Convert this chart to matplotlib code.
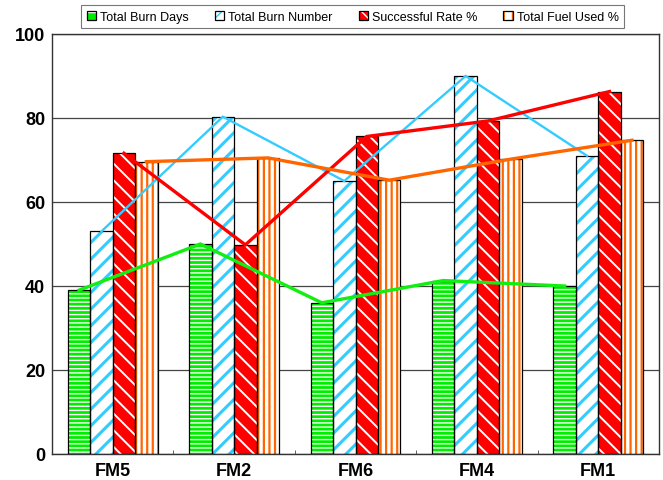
import matplotlib
matplotlib.use("Agg")
import matplotlib.pyplot as plt
import numpy as np
from matplotlib.patches import Patch
from matplotlib.legend_handler import HandlerTuple

# values
categories = ["FM5", "FM2", "FM6", "FM4", "FM1"]
burn_days = [39, 50, 36, 41.3, 40]
burn_number = [53, 80.3, 65, 90, 71]
success_rate = [71.6, 49.8, 75.6, 79.3, 86.3]
fuel_used = [69.6, 70.5, 65.2, 70.2, 74.7]

labels = ["Total Burn Days", "Total Burn Number", "Successful Rate %", "Total Fuel Used %"]

plt.rcParams["font.family"] = ["Liberation Sans", "DejaVu Sans"]

green = "#00ee00"
cyan = "#33ccff"
red = "#ff0000"
orange = "#ff6600"

# (face, hatch colour, hatch, line colour, line width, hatch lw)
styles = [
    (green, "white", "----", "#11ee11", 2.4, 1.0),
    ("white", cyan, "//", cyan, 1.7, 2.2),
    (red, "white", "\\\\", red, 2.4, 1.4),
    ("white", orange, "|||", orange, 2.4, 1.6),
]
series = [burn_days, burn_number, success_rate, fuel_used]

fig = plt.figure(figsize=(6.63, 4.81), dpi=100)
ax = fig.add_axes([52 / 663, 26 / 481, 607 / 663, 420 / 481])

x = np.arange(len(categories))
width = 0.185
start = -2 * width

handles = []
for i, (vals, (face, hcol, hatch, lcol, lw, hlw)) in enumerate(zip(series, styles)):
    pos = x + start + width * (i + 0.5)
    with plt.rc_context({"hatch.linewidth": hlw}):
        ax.bar(pos, vals, width, color=face, edgecolor=hcol, hatch=hatch,
               linewidth=0, zorder=2)
    ax.bar(pos, vals, width, facecolor="none", edgecolor="black",
           linewidth=0.9, zorder=3)
    ax.plot(pos, vals, color=lcol, linewidth=lw, zorder=4, solid_joinstyle="miter")
    with plt.rc_context({"hatch.linewidth": 1.3}):
        h_fill = Patch(facecolor=face, edgecolor=hcol, hatch=hatch[:2], linewidth=0)
    h_edge = Patch(facecolor="none", edgecolor="black", linewidth=0.9)
    handles.append((h_fill, h_edge))

ax.set_xlim(-0.5, 4.5)
ax.set_ylim(0, 100)
ax.set_yticks([0, 20, 40, 60, 80, 100])
ax.yaxis.grid(True, color="#444444", linewidth=0.9)
ax.set_axisbelow(True)

ax.set_xticks(x)
ax.set_xticklabels(categories, fontsize=13, fontweight="bold")
ax.set_xticks(x[:-1] + 0.5, minor=True)
ax.tick_params(axis="x", which="major", length=0, pad=6)
ax.tick_params(axis="x", which="minor", length=3, direction="in", color="#444444")
ax.tick_params(axis="y", length=0, pad=5, labelsize=13)
for t in ax.get_yticklabels():
    t.set_fontweight("bold")

for s in ax.spines.values():
    s.set_color("#333333")
    s.set_linewidth(1.0)

leg = fig.legend(handles, labels, handler_map={tuple: HandlerTuple(ndivide=1, pad=0)},
                 loc="center", bbox_to_anchor=(0.532, 0.9636), ncol=4, fontsize=9,
                 frameon=True, fancybox=False, handlelength=0.75, handleheight=0.75,
                 handletextpad=0.3, columnspacing=2.1, borderpad=0.45)
leg.get_frame().set_edgecolor("#555555")
leg.get_frame().set_linewidth(0.8)

fig.savefig("out.png", dpi=100)
